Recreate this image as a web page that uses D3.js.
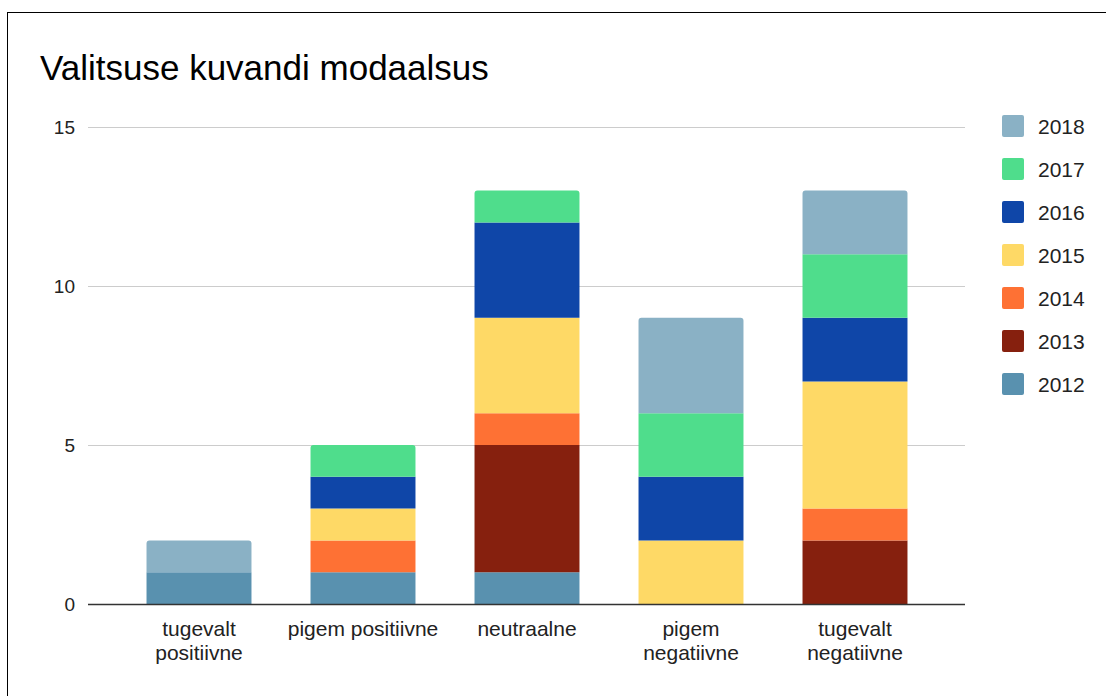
<!DOCTYPE html>
<html>
<head>
<meta charset="utf-8">
<script src="https://cdn.jsdelivr.net/npm/d3@7"></script>
<style>
  body { margin: 0; background: #fff; }
  text { font-family: "Liberation Sans", Arial, sans-serif; }
</style>
</head>
<body>
<svg id="chart" width="1106" height="696"></svg>
<script>
// categories and series (bottom to top)
const categories = [
  ['tugevalt', 'positiivne'],
  ['pigem positiivne'],
  ['neutraalne'],
  ['pigem', 'negatiivne'],
  ['tugevalt', 'negatiivne']
];
const years = ['2012', '2013', '2014', '2015', '2016', '2017', '2018'];
const v2012 = [1, 1, 1, 0, 0];
const v2013 = [0, 0, 4, 0, 2];
const v2014 = [0, 1, 1, 0, 1];
const v2015 = [0, 1, 3, 2, 4];
const v2016 = [0, 1, 3, 2, 2];
const v2017 = [0, 1, 1, 2, 2];
const v2018 = [1, 0, 0, 3, 2];
const yTicks = [0, 5, 10, 15];
const colors = ['#5991af', '#86200e', '#fe7134', '#fed966', '#0f46a8', '#4fdd8c', '#8ab1c5'];

const series = [v2012, v2013, v2014, v2015, v2016, v2017, v2018];
const rows = categories.map((c, i) => {
  const r = { key: i };
  years.forEach((y, j) => r[y] = series[j][i]);
  return r;
});

const svg = d3.select('#chart');
const margin = { top: 127, left: 117, right: 169, bottom: 92 };
const W = 1106, H = 696;

// outer border
svg.append('rect').attr('x', 7.5).attr('y', 12.5)
  .attr('width', W).attr('height', H)
  .attr('fill', 'none').attr('stroke', '#000').attr('stroke-width', 1);

svg.append('text').attr('x', 40).attr('y', 80)
  .attr('font-size', 35).attr('fill', '#000')
  .text('Valitsuse kuvandi modaalsus');

const x = d3.scaleBand()
  .domain(d3.range(categories.length))
  .range([margin.left, W - margin.right])
  .paddingInner(0.36).paddingOuter(0.18);

const y = d3.scaleLinear().domain([0, 15]).range([604, 127]);

// grid
const gx0 = 88, gx1 = 965;
svg.append('g').selectAll('line').data(yTicks.filter(d => d > 0)).join('line')
  .attr('x1', gx0).attr('x2', gx1)
  .attr('y1', d => y(d) + 0.5).attr('y2', d => y(d) + 0.5)
  .attr('stroke', '#cccccc').attr('stroke-width', 1);

svg.append('g').selectAll('text').data(yTicks).join('text')
  .attr('x', 75).attr('y', d => y(d) + 7)
  .attr('text-anchor', 'end').attr('font-size', 19).attr('fill', '#222')
  .text(d => d);

const stacked = d3.stack().keys(years)(rows);

// topmost non-zero layer per category
const topIdx = rows.map(r => {
  let t = -1;
  years.forEach((yr, j) => { if (r[yr] > 0) t = j; });
  return t;
});

function segPath(x0, x1, y0, y1, round) {
  const r = round ? 3 : 0;
  return `M${x0},${y0}V${y1 + r}` +
    (r ? `Q${x0},${y1} ${x0 + r},${y1}H${x1 - r}Q${x1},${y1} ${x1},${y1 + r}` : `H${x1}`) +
    `V${y0}Z`;
}

stacked.forEach((layer, j) => {
  svg.append('g').selectAll('path').data(layer.filter(d => d[1] > d[0])).join('path')
    .attr('fill', colors[j])
    .attr('d', d => {
      const i = d.data.key;
      const x0 = x(i), x1 = x(i) + x.bandwidth();
      return segPath(x0, x1, y(d[0]), y(d[1]), topIdx[i] === j);
    });
});

// zero line
svg.append('line').attr('x1', gx0).attr('x2', gx1)
  .attr('y1', y(0) + 0.5).attr('y2', y(0) + 0.5)
  .attr('stroke', '#333').attr('stroke-width', 1.5);

// category labels
const lab = svg.append('g').selectAll('text').data(categories).join('text')
  .attr('text-anchor', 'middle').attr('font-size', 21).attr('fill', '#222')
  .attr('transform', (d, i) => `translate(${x(i) + x.bandwidth() / 2},636)`);
lab.selectAll('tspan').data(d => d).join('tspan')
  .attr('x', 0).attr('dy', (d, k) => k ? 24 : 0).text(d => d);

// legend (2018 at top)
const legendYears = years.slice().reverse();
const lg = svg.append('g').selectAll('g').data(legendYears).join('g')
  .attr('transform', (d, k) => `translate(1002,${115 + k * 43})`);
lg.append('rect').attr('width', 22).attr('height', 22).attr('rx', 2)
  .attr('fill', d => colors[years.indexOf(d)]);
lg.append('text').attr('x', 36).attr('y', 19)
  .attr('font-size', 21).attr('fill', '#222').text(d => d);
</script>
</body>
</html>
